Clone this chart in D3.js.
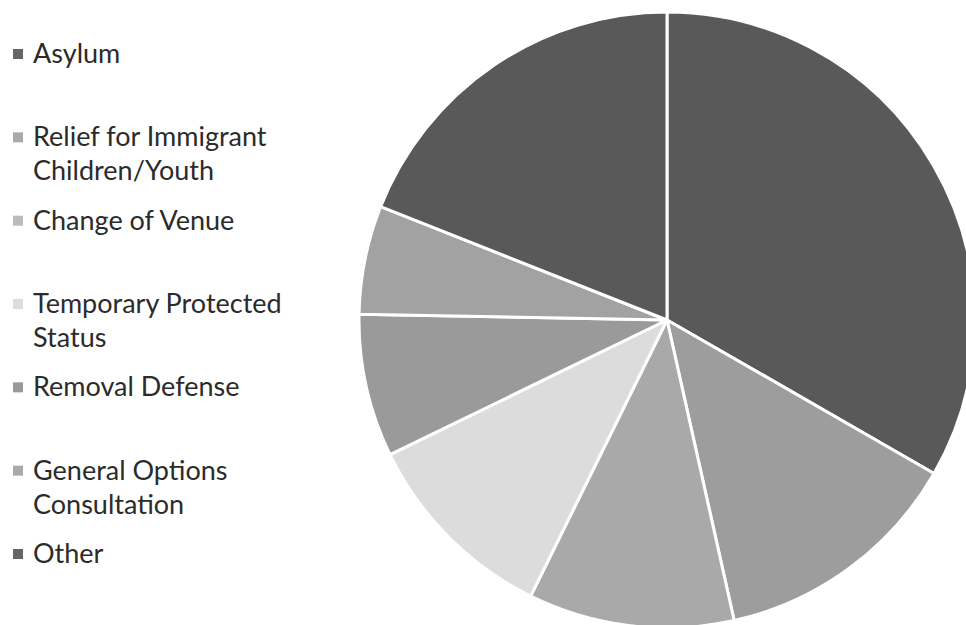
<!DOCTYPE html>
<html>
<head>
<meta charset="utf-8">
<script src="https://cdn.jsdelivr.net/npm/d3@7"></script>
<style>
  body { margin: 0; background: #fff; }
  text { font-family: Lato, "Open Sans", sans-serif; }
</style>
</head>
<body>
<div id="container"></div>
<script>
// datos del grafico (porcentaje estimado de cada categoria)
const categories = ["Asylum", "Relief for Immigrant Children/Youth", "Change of Venue",
                    "Temporary Protected Status", "Removal Defense",
                    "General Options Consultation", "Other"];
const labelLines = [["Asylum"], ["Relief for Immigrant", "Children/Youth"], ["Change of Venue"],
                    ["Temporary Protected", "Status"], ["Removal Defense"],
                    ["General Options", "Consultation"], ["Other"]];
const values = [33.3, 13.2, 10.8, 10.5, 7.5, 5.7, 19.0];
const sliceColors = ["#595959", "#9d9d9d", "#a9a9a9", "#dcdcdc", "#9a9a9a", "#a2a2a2", "#595959"];
const markerColors = ["#666666", "#aaaaaa", "#bbbbbb", "#dddddd", "#999999", "#aaaaaa", "#666666"];

const WIDTH = 966, HEIGHT = 625;

const svg = d3.select('#container').append('svg')
    .attr("width", WIDTH).attr("height", HEIGHT);

// pie
const cx = 667, cy = 320, radius = 308;

const pie = d3.pie().sort(null).value((d) => d);
const arc = d3.arc().innerRadius(0).outerRadius(radius);

const pieG = svg.append('g').attr('transform', `translate(${cx} ${cy})`);

pieG.selectAll("path")
    .data(pie(values))
    .join("path")
    .attr("d", arc)
    .attr("fill", (d, i) => sliceColors[i])
    .attr("stroke", "#fff")
    .attr("stroke-width", 3)
    .attr("stroke-linejoin", "round");

// leyenda
const legendY = d3.scalePoint()
    .domain(categories)
    .range([63, 563]);

const legend = svg.append('g');

const item = legend.selectAll("g")
    .data(categories)
    .join("g")
    .attr("transform", (d) => `translate(0 ${legendY(d)})`);

item.append("rect")
    .attr("x", 13)
    .attr("y", -14)
    .attr("width", 10)
    .attr("height", 10)
    .attr("fill", (d, i) => markerColors[i]);

item.append("text")
    .attr("x", 33)
    .attr("fill", "#2b2b2b")
    .style("font-size", "27px")
    .selectAll("tspan")
    .data((d, i) => labelLines[i])
    .join("tspan")
    .attr("x", 33)
    .attr("y", (d, j) => j * 34)
    .text((d) => d);
</script>
</body>
</html>
